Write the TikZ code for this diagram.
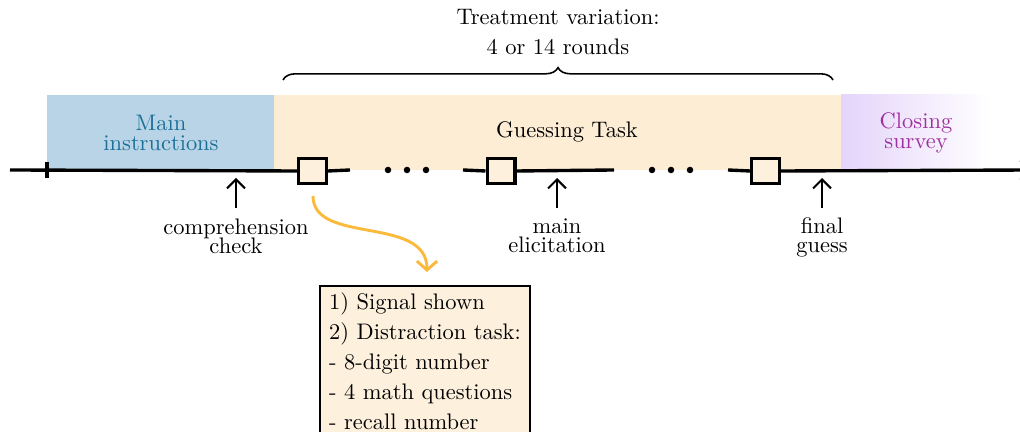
\documentclass[tikz,border=0pt]{standalone}
\usetikzlibrary{arrows.meta,decorations.pathreplacing,calc}
\definecolor{bluebg}{RGB}{184,212,230}
\definecolor{bluetx}{RGB}{28,112,152}
\definecolor{orbg}{RGB}{253,237,212}
\definecolor{sqfill}{RGB}{253,241,222}
\definecolor{purbg}{RGB}{228,212,250}
\definecolor{purtx}{RGB}{160,48,160}
\definecolor{orarrow}{RGB}{250,186,60}
\newcommand\mytightfont{\fontsize{10}{8.6}\selectfont\setlength{\lineskiplimit}{-10pt}}
\begin{document}
\begin{tikzpicture}[x=0.445pt,y=-0.445pt,
  lbl/.style={font=\mytightfont, align=center, inner sep=0pt},
  sq/.style={draw=black, line width=1.5pt, fill=sqfill, minimum width=12.3pt, minimum height=11pt, inner sep=0pt},
  tl/.style={line width=1.5pt},
  uparrow/.style={line width=0.9pt, -{Straight Barb[length=4pt,width=8pt]}},
  dot/.style={circle, fill=black, inner sep=0pt, minimum size=2.9pt},
  orarr/.style={draw=orarrow, line width=1.3pt, -{Straight Barb[length=4pt,width=9pt]}},
  infobox/.style={draw=black, line width=0.8pt, fill=sqfill, align=left, inner xsep=4pt, inner ysep=3pt, font=\fontsize{10}{13.4}\selectfont}]
\clip (0,0) rectangle (1020,432);
\fill[white] (0,0) rectangle (1020,432);
% phases
\fill[bluebg] (47,95) rectangle (274,170);
\fill[orbg] (274,95) rectangle (841,170);
\shade[left color=purbg,right color=white] (841,95) rectangle (990,170);
\node[lbl, text=bluetx] (mi) at (161,133) {Main\\instructions};
\node[lbl] (gt) at (567,132) {Guessing Task};
\node[lbl, text=purtx] (cs) at (916,133) {Closing\\survey};
% round boxes
\node[sq] (r1) at (312.5,171) {};
\node[sq] (r2) at (501,171) {};
\node[sq] (r3) at (765.5,171) {};
% timeline
\coordinate (s) at (10,170);
\coordinate (g1a) at (350,170);
\coordinate (g1b) at (463,170);
\coordinate (g2a) at (614,170);
\coordinate (g2b) at (728,170);
\coordinate (e) at (1032,170);
\draw[tl] (s) -- (r1.west);
\draw[tl] (r1.east) -- (g1a);
\draw[tl] (g1b) -- (r2.west);
\draw[tl] (r2.east) -- (g2a);
\draw[tl] (g2b) -- (r3.west);
\draw[tl, -{Straight Barb[length=4pt,width=9pt]}] (r3.east) -- (e);
\coordinate (t1) at (47,162);
\coordinate (t2) at (47,178);
\draw[tl] (t1) -- (t2);
\node[dot] (d1) at (388,170) {};
\node[dot] (d2) at (407,170) {};
\node[dot] (d3) at (426,170) {};
\node[dot] (d4) at (652,170) {};
\node[dot] (d5) at (671,170) {};
\node[dot] (d6) at (690,170) {};
% labels with arrows
\node[lbl, anchor=north] (cc) at (236,218) {comprehension\\check};
\node[lbl, anchor=north] (me) at (557,218) {main\\elicitation};
\node[lbl, anchor=north] (fg) at (822,217) {final\\guess};
\coordinate (a1) at (236,178);
\coordinate (a2) at (557,178);
\coordinate (a3) at (822,178);
\draw[uparrow] ($(cc.north)+(0,-10)$) -- (a1);
\draw[uparrow] ($(me.north)+(0,-10)$) -- (a2);
\draw[uparrow] ($(fg.north)+(0,-9)$) -- (a3);
% brace
\coordinate (b1) at (283,80);
\coordinate (b2) at (833,80);
\draw[decorate, decoration={brace, amplitude=5.5pt}, line width=0.7pt] (b1) -- (b2);
\node[anchor=base] (tv) at (558,25) {Treatment variation:};
\node[anchor=base] (tr) at (558,55) {4 or 14 rounds};
% info box
\node[infobox, anchor=north] (box) at (425,285) {1) Signal shown\\2) Distraction task:\\- 8-digit number\\- 4 math questions\\- recall number\\};
\draw[orarr] ($(r1.south)+(0.5,11)$) .. controls (313,245) and (427,215) .. ($(box.north)+(2,-13)$);
\end{tikzpicture}
\end{document}
